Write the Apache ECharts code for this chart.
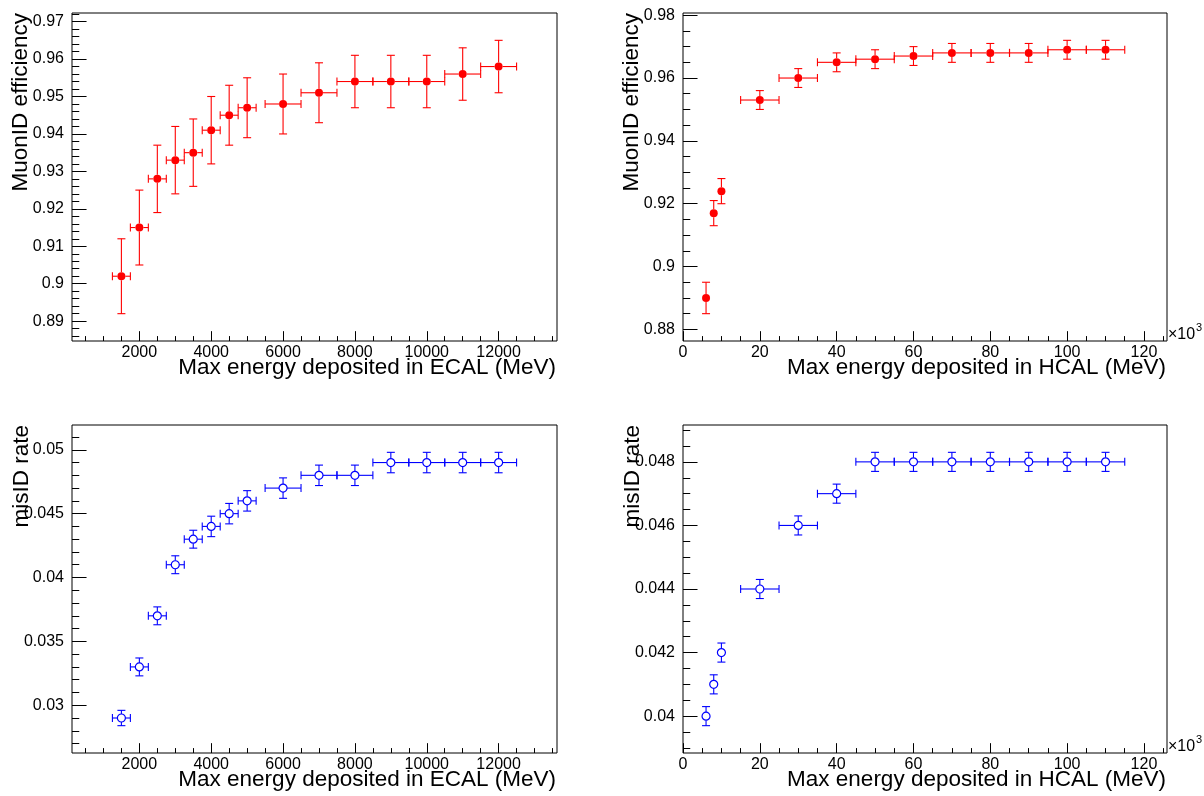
<!DOCTYPE html>
<html>
<head>
<meta charset="utf-8">
<script src="https://cdn.jsdelivr.net/npm/echarts@6/dist/echarts.min.js"></script>
<style>
html,body{margin:0;padding:0;background:#fff;}
#chart{width:1204px;height:796px;}
</style>
</head>
<body>
<div id="chart"></div>
<script>
// ---------------- DATA ----------------
const ecalX     = [1500, 2000, 2500, 3000, 3500, 4000, 4500, 5000, 6000, 7000, 8000, 9000, 10000, 11000, 12000];
const ecalXErr  = [250, 250, 250, 250, 250, 250, 250, 250, 500, 500, 500, 500, 500, 500, 500];
const ecalEff   = [0.902, 0.915, 0.928, 0.933, 0.935, 0.941, 0.945, 0.947, 0.948, 0.951, 0.954, 0.954, 0.954, 0.956, 0.958];
const ecalEffErr= [0.010, 0.010, 0.009, 0.009, 0.009, 0.009, 0.008, 0.008, 0.008, 0.008, 0.007, 0.007, 0.007, 0.007, 0.007];
const ecalMis   = [0.029, 0.033, 0.037, 0.041, 0.043, 0.044, 0.045, 0.046, 0.047, 0.048, 0.048, 0.049, 0.049, 0.049, 0.049];
const ecalMisErr= [0.0006, 0.0007, 0.0007, 0.0007, 0.0007, 0.0008, 0.0008, 0.0008, 0.0008, 0.0008, 0.0008, 0.0008, 0.0008, 0.0008, 0.0008];

const hcalX     = [6000, 8000, 10000, 20000, 30000, 40000, 50000, 60000, 70000, 80000, 90000, 100000, 110000];
const hcalXErr  = [1000, 1000, 1000, 5000, 5000, 5000, 5000, 5000, 5000, 5000, 5000, 5000, 5000];
const hcalEff   = [0.890, 0.917, 0.924, 0.953, 0.960, 0.965, 0.966, 0.967, 0.968, 0.968, 0.968, 0.969, 0.969];
const hcalEffErr= [0.005, 0.004, 0.004, 0.003, 0.003, 0.003, 0.003, 0.003, 0.003, 0.003, 0.003, 0.003, 0.003];
const hcalMis   = [0.040, 0.041, 0.042, 0.044, 0.046, 0.047, 0.048, 0.048, 0.048, 0.048, 0.048, 0.048, 0.048];
const hcalMisErr= [0.0003, 0.0003, 0.0003, 0.0003, 0.0003, 0.0003, 0.0003, 0.0003, 0.0003, 0.0003, 0.0003, 0.0003, 0.0003];

// tick labels
const ecalXTicks   = [2000, 4000, 6000, 8000, 10000, 12000];
const hcalXTicks   = [0, 20000, 40000, 60000, 80000, 100000, 120000];
const effEcalTicks = [0.89, 0.90, 0.91, 0.92, 0.93, 0.94, 0.95, 0.96, 0.97];
const effHcalTicks = [0.88, 0.90, 0.92, 0.94, 0.96, 0.98];
const misEcalTicks = [0.03, 0.035, 0.04, 0.045, 0.05];
const misHcalTicks = [0.040, 0.042, 0.044, 0.046, 0.048];
// minor tick steps
const ecalXMinorStep = 500, hcalXMinorStep = 5000;
const effEcalMinorStep = 0.002, effHcalMinorStep = 0.005;
const misEcalMinorStep = 0.001, misHcalMinorStep = 0.0005;

const titleX_ECAL = 'Max energy deposited in ECAL (MeV)';
const titleX_HCAL = 'Max energy deposited in HCAL (MeV)';
const titleY_eff = 'MuonID efficiency';
const titleY_mis = 'misID rate';

// ---------------- HELPERS ----------------
const FONT = '"Liberation Sans", Arial, Helvetica, sans-serif';
const rnd = v => Math.round(v * 1e7) / 1e7;
function rootRange(vals, errs) {
  let lo = Infinity, hi = -Infinity;
  vals.forEach((v, i) => { lo = Math.min(lo, v - errs[i]); hi = Math.max(hi, v + errs[i]); });
  const d = 0.1 * (hi - lo);
  let mn = lo - d, mx = hi + d;
  if (mn < 0 && lo >= 0) mn = 0;
  return [mn, mx];
}
function minorTicks(range, step) {
  const out = [];
  const start = Math.ceil(range[0] / step - 1e-9);
  for (let k = start; k * step <= range[1] + 1e-12; k++) out.push(rnd(k * step));
  return out.filter(v => v >= range[0] && v <= range[1]);
}
const fmtNum = v => String(rnd(v));
const fmtK = v => String(Math.round(v / 1000));

const panels = [
  { left: 72, top: 13, width: 485, height: 328, x: ecalX, ex: ecalXErr, y: ecalEff, ey: ecalEffErr,
    xt: ecalXTicks, xms: ecalXMinorStep, yt: effEcalTicks, yms: effEcalMinorStep, xf: fmtNum, filled: true,
    xTitle: titleX_ECAL, yTitle: titleY_eff, yTitleX: 21, exp: false },
  { left: 683, top: 13, width: 484, height: 328, x: hcalX, ex: hcalXErr, y: hcalEff, ey: hcalEffErr,
    xt: hcalXTicks, xms: hcalXMinorStep, yt: effHcalTicks, yms: effHcalMinorStep, xf: fmtK, filled: true,
    xTitle: titleX_HCAL, yTitle: titleY_eff, yTitleX: 632, exp: true },
  { left: 72, top: 425, width: 485, height: 328, x: ecalX, ex: ecalXErr, y: ecalMis, ey: ecalMisErr,
    xt: ecalXTicks, xms: ecalXMinorStep, yt: misEcalTicks, yms: misEcalMinorStep, xf: fmtNum, filled: false,
    xTitle: titleX_ECAL, yTitle: titleY_mis, yTitleX: 22, exp: false },
  { left: 683, top: 425, width: 484, height: 328, x: hcalX, ex: hcalXErr, y: hcalMis, ey: hcalMisErr,
    xt: hcalXTicks, xms: hcalXMinorStep, yt: misHcalTicks, yms: misHcalMinorStep, xf: fmtK, filled: false,
    xTitle: titleX_HCAL, yTitle: titleY_mis, yTitleX: 633, exp: true }
];

function errRender(color, R) {
  return function (params, api) {
    const x = api.value(0), y = api.value(1), ex = api.value(2), ey = api.value(3);
    const c = api.coord([x, y]);
    const xl = api.coord([x - ex, y])[0], xr = api.coord([x + ex, y])[0];
    const yt = api.coord([x, y + ey])[1], yb = api.coord([x, y - ey])[1];
    const cap = 4;
    const st = { stroke: color, lineWidth: 1.1 };
    const ch = [];
    const line = (x1, y1, x2, y2) => ch.push({ type: 'line', shape: { x1, y1, x2, y2 }, style: st });
    if (c[0] - xl > R + 1) {
      line(xl, c[1], c[0] - R, c[1]); line(c[0] + R, c[1], xr, c[1]);
      line(xl, c[1] - cap, xl, c[1] + cap); line(xr, c[1] - cap, xr, c[1] + cap);
    }
    if (yb - c[1] > R + 1) {
      line(c[0], yt, c[0], c[1] - R); line(c[0], c[1] + R, c[0], yb);
      line(c[0] - cap, yt, c[0] + cap, yt); line(c[0] - cap, yb, c[0] + cap, yb);
    }
    return { type: 'group', children: ch };
  };
}

const grid = [], xAxis = [], yAxis = [], series = [], graphic = [];
panels.forEach((p, i) => {
  grid.push({ left: p.left, top: p.top, width: p.width, height: p.height, show: true,
    borderColor: '#000', borderWidth: 1, backgroundColor: 'transparent', outerBoundsMode: 'none' });
  const xr = rootRange(p.x, p.ex), yr = rootRange(p.y, p.ey);
  const xMajLen = 0.03 * p.height, yMajLen = 0.03 * p.width;
  const lblStyle = { color: '#000', fontSize: 16, fontFamily: FONT };
  xAxis.push({ type: 'value', gridIndex: i, position: 'bottom', min: xr[0], max: xr[1],
    axisLine: { show: false }, splitLine: { show: false },
    axisTick: { show: true, inside: true, length: xMajLen, customValues: p.xt.filter(v => v >= xr[0] && v <= xr[1]), lineStyle: { color: '#000', width: 1 } },
    axisLabel: Object.assign({ show: true, margin: 4, customValues: p.xt.filter(v => v >= xr[0] && v <= xr[1]), formatter: p.xf, hideOverlap: false }, lblStyle) });
  xAxis.push({ type: 'value', gridIndex: i, position: 'bottom', min: xr[0], max: xr[1],
    axisLine: { show: false }, splitLine: { show: false }, axisLabel: { show: false },
    axisTick: { show: true, inside: true, length: xMajLen / 2, customValues: minorTicks(xr, p.xms), lineStyle: { color: '#000', width: 1 } } });
  yAxis.push({ type: 'value', gridIndex: i, position: 'left', min: yr[0], max: yr[1],
    axisLine: { show: false }, splitLine: { show: false },
    axisTick: { show: true, inside: true, length: yMajLen, customValues: p.yt.filter(v => v >= yr[0] && v <= yr[1]), lineStyle: { color: '#000', width: 1 } },
    axisLabel: Object.assign({ show: true, margin: 8, customValues: p.yt.filter(v => v >= yr[0] && v <= yr[1]), formatter: fmtNum, hideOverlap: false }, lblStyle) });
  yAxis.push({ type: 'value', gridIndex: i, position: 'left', min: yr[0], max: yr[1],
    axisLine: { show: false }, splitLine: { show: false }, axisLabel: { show: false },
    axisTick: { show: true, inside: true, length: yMajLen / 2, customValues: minorTicks(yr, p.yms), lineStyle: { color: '#000', width: 1 } } });

  const color = p.filled ? '#ff0000' : '#0000ff';
  const rows = p.x.map((x, k) => [x, p.y[k], p.ex[k], p.ey[k]]);
  series.push({ type: 'custom', xAxisIndex: 2 * i, yAxisIndex: 2 * i, data: rows,
    encode: { x: 0, y: 1 }, renderItem: errRender(color, 4), silent: true, z: 2 });
  series.push({ type: 'scatter', xAxisIndex: 2 * i, yAxisIndex: 2 * i,
    data: p.x.map((x, k) => [x, p.y[k]]), symbol: 'circle', symbolSize: 8, z: 3,
    itemStyle: p.filled ? { color: '#ff0000', opacity: 1 } : { color: '#ffffff', borderColor: '#0000ff', borderWidth: 1.2, opacity: 1 } });

  // axis titles
  graphic.push({ type: 'text', x: p.left + p.width - 1, y: p.top + p.height + 27,
    style: { text: p.xTitle, fontSize: 22.5, fontFamily: FONT, fill: '#000', textAlign: 'right', textVerticalAlign: 'middle' } });
  graphic.push({ type: 'text', x: p.yTitleX, y: p.top, rotation: Math.PI / 2,
    style: { text: p.yTitle, fontSize: 22.5, fontFamily: FONT, fill: '#000', textAlign: 'right', textVerticalAlign: 'middle' } });
  if (p.exp) {
    graphic.push({ type: 'text', x: p.left + p.width + 1, y: p.top + p.height + 2,
      style: { text: '\u00d710', fontSize: 16, fontFamily: FONT, fill: '#000', textAlign: 'left', textVerticalAlign: 'bottom' } });
    graphic.push({ type: 'text', x: p.left + p.width + 29, y: p.top + p.height - 8,
      style: { text: '3', fontSize: 11, fontFamily: FONT, fill: '#000', textAlign: 'left', textVerticalAlign: 'bottom' } });
  }
});

const chart = echarts.init(document.getElementById('chart'), null, { renderer: 'canvas' });
chart.setOption({ animation: false, backgroundColor: '#fff', grid, xAxis, yAxis, series, graphic });
</script>
</body>
</html>
